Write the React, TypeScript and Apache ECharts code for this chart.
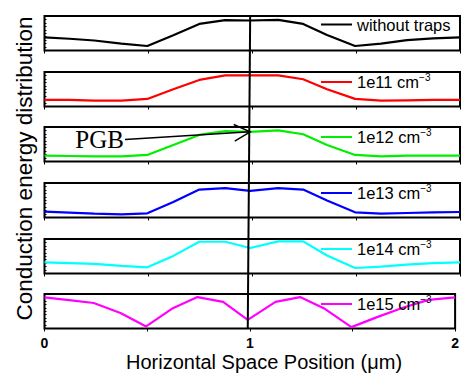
import React, { useEffect, useRef } from 'react';
import * as echarts from 'echarts';

// ---- data ----
const xPositions = [0, 0.12, 0.24, 0.37, 0.495, 0.62, 0.745, 0.87, 0.99, 1.125, 1.245, 1.36, 1.495, 1.62, 1.745, 1.87, 2];
const withoutTraps = [0.38, 0.34, 0.29, 0.2, 0.13, 0.44, 0.77, 0.88, 0.87, 0.89, 0.77, 0.45, 0.13, 0.2, 0.3, 0.35, 0.38];
const trap1e11 = [0.19, 0.19, 0.17, 0.17, 0.22, 0.5, 0.77, 0.9, 0.9, 0.9, 0.79, 0.5, 0.22, 0.17, 0.18, 0.19, 0.19];
const trap1e12 = [0.17, 0.16, 0.15, 0.15, 0.19, 0.48, 0.77, 0.88, 0.86, 0.9, 0.79, 0.48, 0.19, 0.15, 0.17, 0.17, 0.17];
const trap1e13 = [0.17, 0.14, 0.11, 0.09, 0.12, 0.45, 0.81, 0.85, 0.77, 0.85, 0.81, 0.49, 0.15, 0.11, 0.13, 0.15, 0.16];
const trap1e14 = [0.32, 0.3, 0.28, 0.22, 0.18, 0.51, 0.92, 0.92, 0.74, 0.93, 0.93, 0.52, 0.16, 0.2, 0.26, 0.3, 0.32];
const trap1e15 = [0.9, 0.82, 0.74, 0.45, 0.06, 0.57, 0.91, 0.77, 0.25, 0.77, 0.91, 0.59, 0.04, 0.33, 0.6, 0.83, 0.9];

const seriesValues = [withoutTraps, trap1e11, trap1e12, trap1e13, trap1e14, trap1e15];
const seriesNames = ['without traps', '1e11 cm', '1e12 cm', '1e13 cm', '1e14 cm', '1e15 cm'];
const seriesSup = ['', '\u22123', '\u22123', '\u22123', '\u22123', '\u22123'];
const seriesColors = ['#000000', '#ff0000', '#00ee00', '#0000ff', '#00ffff', '#ff00ff'];
const xTickLabels = ['0', '1', '2'];
const refX = 0.99;
const pgbLabel = 'PGB';
const xTitle = 'Horizontal Space Position (\u03bcm)';
const yTitle = 'Conduction energy distribution';

// ---- layout ----
const panelTops = [16, 72, 127, 183, 239, 294];
const panelH = 34.5;
const gridLeft = 44.5;
const gridWidth = 415.5;
const SANS = '"Liberation Sans", Arial, sans-serif';
const SERIF = '"Liberation Serif", "Times New Roman", serif';

export default function App() {
  const ref = useRef<HTMLDivElement>(null);

  useEffect(() => {
    const chart = echarts.init(ref.current!, null, { renderer: 'svg' });
    const grids = panelTops.map((t) => ({
      left: gridLeft,
      width: gridWidth,
      top: t,
      height: panelH,
      show: true,
      borderColor: '#000',
      borderWidth: 2,
      backgroundColor: 'transparent',
    }));
    const xAxes = panelTops.map((_, i) => ({
      type: 'value',
      gridIndex: i,
      min: 0,
      max: 2,
      interval: 0.5,
      axisLine: { show: false },
      axisTick: { show: true, inside: false, length: 3, lineStyle: { color: '#000', width: 1 } },
      splitLine: { show: false },
      axisLabel: {
        show: i === panelTops.length - 1,
        formatter: (v: number) => (xTickLabels.includes(String(v)) ? String(v) : ''),
        color: '#000',
        fontWeight: 'bold',
        fontSize: 14,
        fontFamily: SANS,
        margin: 7,
      },
    }));
    const yAxes = panelTops.map((_, i) => ({
      type: 'value',
      gridIndex: i,
      min: 0,
      max: 1,
      interval: 0.1,
      axisLine: { show: false },
      axisTick: { show: true, inside: true, length: 2, lineStyle: { color: '#000', width: 1 } },
      axisLabel: { show: false },
      splitLine: { show: false },
    }));
    const series = seriesValues.map((vals, i) => ({
      type: 'line',
      name: seriesNames[i],
      xAxisIndex: i,
      yAxisIndex: i,
      data: xPositions.map((x, j) => [x, vals[j]]),
      symbol: 'none',
      showSymbol: false,
      lineStyle: { color: seriesColors[i], width: 2.2 },
      itemStyle: { color: seriesColors[i] },
      z: 3,
    }));
    const legends = panelTops.map((t, i) => ({
      data: [seriesNames[i]],
      left: 321,
      top: t,
      padding: 0,
      itemWidth: 31,
      itemHeight: 2,
      icon: 'rect',
      selectedMode: false,
      formatter: (name: string) => {
        const k = seriesNames.indexOf(name);
        return `{a|${name}}` + (seriesSup[k] ? `{s|${seriesSup[k]}}` : '');
      },
      textStyle: {
        rich: {
          a: { fontSize: 16.5, fontFamily: SANS, color: '#000', lineHeight: 20, verticalAlign: 'middle' },
          s: { fontSize: 10, fontFamily: SANS, color: '#000', lineHeight: 10, verticalAlign: 'top' },
        },
      },
    }));

    chart.setOption({
      animation: false,
      backgroundColor: '#fff',
      grid: grids,
      xAxis: xAxes,
      yAxis: yAxes,
      legend: legends,
      series,
    });

    const last = panelTops.length - 1;
    const topPt = chart.convertToPixel({ gridIndex: 0 } as any, [refX, 1]) as number[];
    const botPt = chart.convertToPixel({ gridIndex: last } as any, [refX, 0]) as number[];
    const tipIdx = xPositions.indexOf(refX);
    const tip = chart.convertToPixel({ gridIndex: 2 } as any, [refX, trap1e12[tipIdx]]) as number[];
    const start = [125, 139.5];
    const ang = Math.atan2(tip[1] - start[1], tip[0] - start[0]);
    const headLen = 18;
    const headAng = 0.48;
    const h1 = [tip[0] - headLen * Math.cos(ang - headAng), tip[1] - headLen * Math.sin(ang - headAng)];
    const h2 = [tip[0] - headLen * Math.cos(ang + headAng), tip[1] - headLen * Math.sin(ang + headAng)];

    chart.setOption({
      graphic: [
        {
          type: 'line',
          shape: { x1: topPt[0], y1: topPt[1] - 1, x2: botPt[0], y2: botPt[1] },
          style: { stroke: '#000', lineWidth: 2 },
          z: 100,
        },
        {
          type: 'line',
          shape: { x1: start[0], y1: start[1], x2: tip[0], y2: tip[1] },
          style: { stroke: '#000', lineWidth: 1.5 },
          z: 100,
        },
        {
          type: 'polyline',
          shape: { points: [h1, tip, h2] },
          style: { stroke: '#000', lineWidth: 1.5, fill: 'none' },
          z: 100,
        },
        {
          type: 'text',
          x: 124,
          y: 139,
          style: { text: pgbLabel, font: `25px ${SERIF}`, fill: '#000', align: 'right', verticalAlign: 'middle' },
          z: 100,
        },
        {
          type: 'text',
          x: 264,
          y: 362,
          style: { text: xTitle, font: `20px ${SANS}`, fill: '#000', align: 'center', verticalAlign: 'middle' },
        },
        {
          type: 'text',
          x: 24,
          y: 168.5,
          rotation: Math.PI / 2,
          style: { text: yTitle, font: `22.5px ${SANS}`, fill: '#000', align: 'center', verticalAlign: 'middle' },
        },
      ],
    });

    return () => chart.dispose();
  }, []);

  return <div ref={ref} style={{ position: 'fixed', left: 0, top: 0, width: 462, height: 373 }} />;
}
